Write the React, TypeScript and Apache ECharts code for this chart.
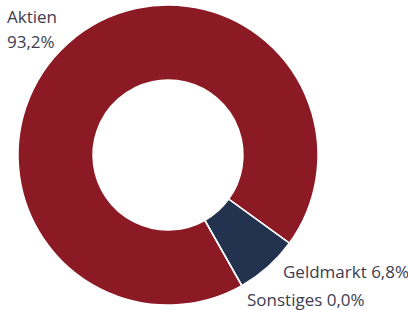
import React, { useEffect, useRef } from "react";
import * as echarts from "echarts";

const categories = ["Aktien", "Geldmarkt", "Sonstiges"];
const values = [93.2, 6.8, 0.0];
const colors = ["#8B1A24", "#23324F", "#8a8a8a"];

const labelPos: Record<string, { x: number; y: number }> = {
  Aktien: { x: 7, y: 29 },
  Geldmarkt: { x: 283, y: 271 },
  Sonstiges: { x: 247, y: 299 },
};

function fmt(v: number) {
  return v.toFixed(1).replace(".", ",") + "%";
}

export default function App() {
  const ref = useRef<HTMLDivElement>(null);
  useEffect(() => {
    if (!ref.current) return;
    const chart = echarts.init(ref.current, undefined, { renderer: "svg" });
    chart.setOption({
      animation: false,
      series: [
        {
          type: "pie",
          center: [168, 155],
          radius: [75, 150],
          startAngle: 299.5,
          clockwise: true,
          avoidLabelOverlap: false,
          itemStyle: { borderColor: "#ffffff", borderWidth: 1.5 },
          label: {
            show: true,
            position: "outside",
            color: "#3d3c50",
            fontFamily: "Open Sans",
            fontSize: 17,
            lineHeight: 25,
            formatter: (p: any) =>
              p.name === "Aktien" ? `${p.name}\n${fmt(p.value)}` : `${p.name} ${fmt(p.value)}`,
          },
          labelLine: { show: false },
          labelLayout: (params: any) => {
            const name = categories[params.dataIndex];
            const pos = labelPos[name];
            return { x: pos.x, y: pos.y, align: "left", verticalAlign: "middle" };
          },
          data: categories.map((c, i) => ({
            name: c,
            value: values[i],
            itemStyle: { color: colors[i] },
          })),
        },
      ],
    });
    return () => chart.dispose();
  }, []);
  return (
    <div
      ref={ref}
      style={{ position: "absolute", left: 0, top: 0, width: 408, height: 310 }}
    />
  );
}
